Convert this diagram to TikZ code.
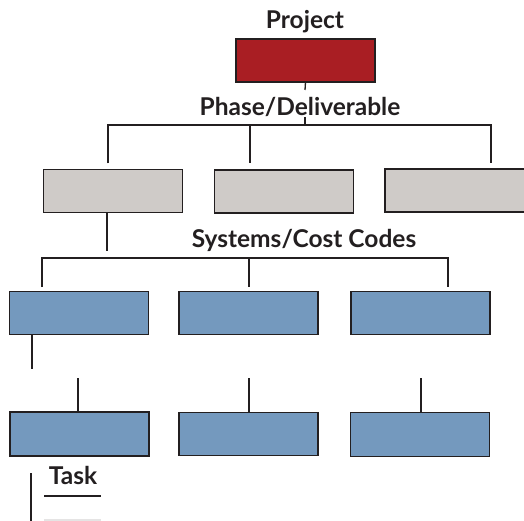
\documentclass[tikz,border=0pt]{standalone}
\usepackage{fontspec}
\setmainfont{Lato}
\definecolor{projred}{HTML}{A91E23}
\definecolor{phasegrey}{HTML}{CFCBC8}
\definecolor{codeblue}{HTML}{7499BE}
\definecolor{ink}{HTML}{231F20}
\begin{document}
\begin{tikzpicture}[x=1pt,y=-1pt,
  box/.style={draw=ink,line width=1.6pt,minimum width=139pt,minimum height=43pt,inner sep=0pt,outer sep=0pt},
  projbox/.style={box,fill=projred},
  phasebox/.style={box,fill=phasegrey},
  codebox/.style={box,fill=codeblue},
  link/.style={draw=ink,line width=1.3pt},
  level/.style={font=\bfseries\fontsize{24.5}{24.5}\selectfont,text=ink,inner sep=0pt}]
\useasboundingbox (0,0) rectangle (524,521);

% level captions
\node[level] (tproj) at (305,22) {Project};
\node[level] (tphase) at (300,107) {Phase/Deliverable};
\node[level] (tsys) at (304,240) {Systems/Cost Codes};
\node[level] (ttask) at (73,475) {Task};

% boxes
\node[projbox] (proj) at (305.5,60.5) {};
\node[phasebox] (g1) at (113,191) {};
\node[phasebox] (g2) at (284,191.5) {};
\node[phasebox,minimum width=140pt] (g3) at (455,190.5) {};
\node[codebox] (b1) at (79,313) {};
\node[codebox] (b2) at (248.5,313) {};
\node[codebox] (b3) at (420.5,313) {};
\node[codebox,minimum height=44pt] (c1) at (79.5,434) {};
\node[codebox] (c2) at (248.5,434) {};
\node[codebox,minimum height=44pt] (c3) at (420,434.5) {};

% bar junctions
\coordinate (pstub) at (305,90);
\coordinate (ptop) at (305,117);
\coordinate (pbar) at (305,125);
\coordinate (pl) at (108,125);
\coordinate (pm) at (250,125);
\coordinate (pr) at (491,125);
\coordinate (gdrop) at (107,251);
\coordinate (sl) at (42,258);
\coordinate (sm) at (249,258);
\coordinate (sr) at (448,258);
\coordinate (bdrop) at (32,369);
\coordinate (t1) at (78,378);
\coordinate (t2) at (249,378);
\coordinate (t3) at (421,378);
\coordinate (ulA) at (44,496);
\coordinate (ulB) at (101,496);
\coordinate (flA) at (44,520);
\coordinate (flB) at (101,520);
\coordinate (vtop) at (31,473);
\coordinate (vbot) at (31,521);

% connectors
\path[link] (proj.south) -- (pstub);
\path[link] (ptop) -- (pbar);
\path[link] (pl |- g1.north) ++(0,-6) -- (pl) -- (pr) -- ++(0,38);
\path[link] (pm) -- ++(0,38);
\path[link] (g1.south -| gdrop) -- (gdrop);
\path[link] (sl) ++(0,29) -- (sl) -- (sr) -- ++(0,29);
\path[link] (sm) -- ++(0,29);
\path[link] (b1.south -| bdrop) -- (bdrop);
\path[link] (t1) -- (t1 |- c1.north);
\path[link] (t2) -- (t2 |- c2.north);
\path[link] (t3) -- (t3 |- c3.north);
\path[link] (ulA) -- (ulB);
\draw[line width=1.3pt,draw=ink!12] (flA) -- (flB);
\path[link] (vtop) -- (vbot);
\end{tikzpicture}
\end{document}
